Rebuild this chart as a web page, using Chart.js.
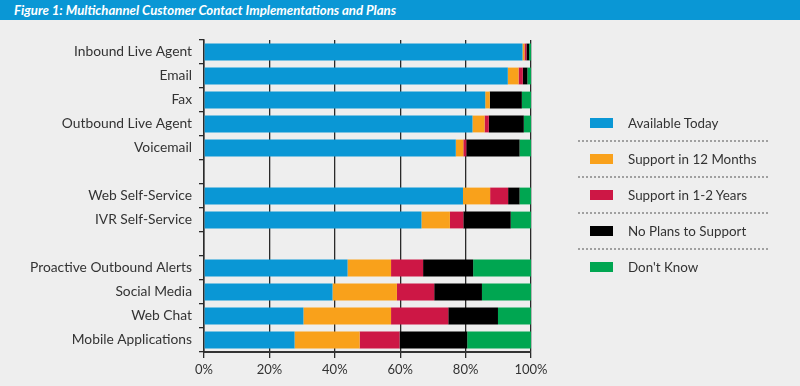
<!DOCTYPE html>
<html>
<head>
<meta charset="utf-8">
<script src="https://cdn.jsdelivr.net/npm/chart.js@4/dist/chart.umd.min.js"></script>
<style>
  html, body { margin: 0; padding: 0; background: #eeeeee; }
  #wrap { position: relative; width: 800px; height: 386px; overflow: hidden; background: #eeeeee; }
  #titlebar { position: absolute; left: 0; top: 0; width: 800px; height: 20px; background: #0a97d5;
    color: #fff; font: italic bold 13.2px Lato, "Open Sans", sans-serif; line-height: 20px; padding-left: 14px; box-sizing: border-box; }
  #chart { position: absolute; left: 0; top: 0; }
  #legend { position: absolute; left: 578px; top: 106px; width: 190px; font: 13.4px Lato, sans-serif; color: #333; }
  .item { position: relative; height: 36px; }
  .sw { position: absolute; left: 12px; top: 12px; width: 23px; height: 10px; }
  .lb { position: absolute; left: 50px; top: 9px; line-height: 16px; }
  .sep { position: absolute; left: 0; right: 0; bottom: 0; border-bottom: 2px dotted #a0a0a0; height: 0; }
</style>
</head>
<body>
<div id="wrap">
  <canvas id="chart" width="800" height="386"></canvas>
  <div id="titlebar">Figure 1: Multichannel Customer Contact Implementations and Plans</div>
  <div id="legend"></div>
</div>
<script>
const categories = [
  "Inbound Live Agent", "Email", "Fax", "Outbound Live Agent", "Voicemail", "",
  "Web Self-Service", "IVR Self-Service", "",
  "Proactive Outbound Alerts", "Social Media", "Web Chat", "Mobile Applications"
];
const seriesNames = ["Available Today", "Support in 12 Months", "Support in 1-2 Years", "No Plans to Support", "Don't Know"];
const seriesColors = ["#0a97d5", "#f9a11b", "#cd1745", "#000000", "#00a651"];
const availableToday = [97.4, 92.9, 86.0, 82.1, 77.0, null, 79.2, 66.5, null, 43.9, 39.3, 30.4, 27.7];
const support12Months = [0.6, 3.3, 1.4, 3.7, 2.3, null, 8.3, 8.7, null, 13.3, 19.7, 26.8, 19.9];
const support1to2Years = [0.6, 1.3, 0.0, 1.3, 0.9, null, 5.5, 4.1, null, 9.8, 11.4, 17.5, 12.2];
const noPlans = [0.8, 1.4, 9.8, 10.7, 16.3, null, 3.5, 14.5, null, 15.3, 14.6, 15.2, 20.7];
const dontKnow = [0.6, 1.1, 2.8, 2.2, 3.5, null, 3.5, 6.2, null, 17.7, 15.0, 10.1, 19.5];
const xTicks = [0, 20, 40, 60, 80, 100];

const seriesData = [availableToday, support12Months, support1to2Years, noPlans, dontKnow];

// HTML legend
const legend = document.getElementById('legend');
seriesNames.forEach((name, i) => {
  const item = document.createElement('div');
  item.className = 'item';
  item.innerHTML = '<div class="sw" style="background:' + seriesColors[i] + '"></div><div class="lb">' + name + '</div>' +
    (i < seriesNames.length - 1 ? '<div class="sep"></div>' : '');
  legend.appendChild(item);
});

Chart.defaults.font.family = 'Lato, "Open Sans", sans-serif';
Chart.defaults.font.size = 13;
Chart.defaults.color = '#333';

new Chart(document.getElementById('chart'), {
  type: 'bar',
  data: {
    labels: categories,
    datasets: seriesNames.map((name, i) => ({
      label: name,
      data: seriesData[i],
      backgroundColor: seriesColors[i],
      borderWidth: 0,
      categoryPercentage: 0.7,
      barPercentage: 1.0
    }))
  },
  options: {
    indexAxis: 'y',
    responsive: false,
    animation: false,
    layout: { padding: { top: 40, right: 269, left: 0, bottom: 0 } },
    plugins: { legend: { display: false }, tooltip: { enabled: false } },
    scales: {
      x: {
        stacked: true,
        min: 0, max: 100,
        afterBuildTicks: (s) => { s.ticks = xTicks.map(v => ({ value: v })); },
        afterFit: (s) => { s.height = 34; },
        ticks: { callback: (v) => v + '%', padding: 4, color: '#333', font: { size: 13 } },
        grid: { color: '#2a2a2a', lineWidth: 1.3, tickLength: 6, drawOnChartArea: true },
        border: { display: true, color: '#333', width: 2 }
      },
      y: {
        stacked: true,
        afterFit: (s) => { s.width = 204; },
        ticks: { padding: 7, color: '#333', font: { size: 13.8 }, autoSkip: false },
        grid: { offset: true, drawOnChartArea: false, color: '#2a2a2a', lineWidth: 1.3, tickLength: 5 },
        border: { display: true, color: '#2a2a2a', width: 1.5 }
      }
    }
  }
});
</script>
</body>
</html>
